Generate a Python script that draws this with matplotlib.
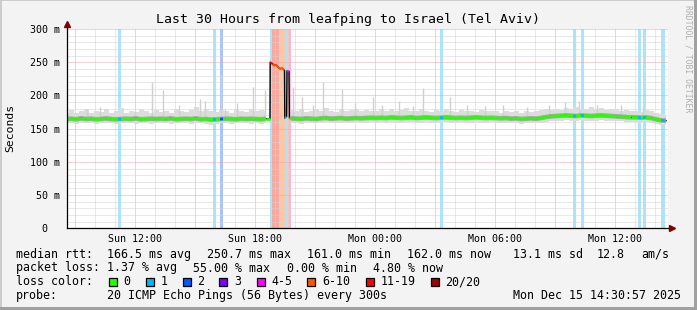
import matplotlib
matplotlib.use('Agg')
import matplotlib.pyplot as plt
import numpy as np
from matplotlib.patches import Rectangle
from matplotlib.collections import LineCollection

plt.rcParams['font.family'] = 'DejaVu Sans Mono'

W, H = 697, 310

# x = hours since Sun 00:00, regular samples every 15 min starting 08:33
t_start, t_step = 8.55, 0.25
median = [164.5, 165.0, 164.0, 165.5, 164.5, 165.0, 164.0, 164.5, 165.5, 164.5,
          164.0, 164.5, 165.0, 164.5, 165.5, 164.0, 164.5, 165.0, 164.5, 165.0,
          164.5, 165.5, 164.0, 164.5, 165.0, 164.5, 165.5, 164.0, 164.5, 163.5,
          164.0, 164.5, 165.0, 164.5, 164.0, 165.0, 164.5, 165.0, 164.5, 164.0, 165.0,
          np.nan, np.nan, np.nan, np.nan,
          165.5, 165.0, 164.5, 165.5, 165.0, 164.5, 165.5, 166.0, 165.0, 165.5,
          166.0, 165.0, 165.5, 166.0, 165.5, 166.0, 166.5,
          166.0, 166.5, 166.0, 167.0, 166.5, 166.0, 166.5, 167.0, 166.0, 166.5,
          167.0, 166.5, 166.0, 166.5, 167.0, 166.5, 166.0, 166.5, 166.0, 166.5,
          167.0, 166.5, 166.0, 166.5,
          166.0, 165.5, 166.0, 165.0, 165.5, 164.5, 165.0, 165.5, 165.0, 166.0, 167.5, 168.5,
          169.0, 169.5, 170.0, 169.5, 169.0, 170.0, 169.5, 169.0, 169.5, 170.0, 169.5, 169.0,
          168.5, 168.0, 167.5, 167.0,
          167.0, 166.5, 167.0, 166.0,
          164.0, 162.5, 162.0]
smoke_hi = [174, 178, 173, 176, 180, 174, 177, 175, 179, 173,
            176, 181, 174, 177, 175, 179, 176, 174, 178, 175,
            177, 174, 180, 176, 175, 178, 182, 176, 179, 177,
            175, 178, 176, 174, 179, 176, 175, 180, 177, 178, 176,
            np.nan, np.nan, np.nan, np.nan,
            178, 176, 180, 175, 177, 179, 176, 181, 177, 175, 179, 176, 178, 180, 176, 178, 177,
            176, 179, 177, 180, 176, 178, 181, 177, 176, 179, 177, 175,
            178, 176, 179, 177, 175, 178, 176, 177, 175, 178, 176, 177,
            176, 174, 177, 175, 176, 174, 177, 175, 176, 178, 179, 178,
            180, 178, 181, 179, 182, 178, 180, 183, 179, 181, 178, 180, 179, 177, 178, 176,
            177, 175, 178, 176,
            174, 172, 171]
smoke_lo = [158, 159, 157, 158, 159, 158, 157, 159, 158, 158,
            157, 158, 159, 158, 157, 158, 159, 157, 158, 159,
            158, 157, 159, 158, 158, 157, 159, 158, 157, 156,
            157, 158, 159, 157, 158, 159, 158, 157, 158, 157, 158,
            np.nan, np.nan, np.nan, np.nan,
            159, 158, 157, 159, 158, 158, 159, 160, 158, 159, 159, 158, 159, 160, 159, 159, 160,
            159, 160, 159, 160, 159, 159, 160, 160, 159, 159, 160, 159,
            159, 160, 160, 159, 159, 160, 159, 159, 160, 159, 159, 160,
            159, 158, 159, 158, 158, 157, 158, 158, 158, 159, 160, 161,
            162, 162, 163, 162, 162, 163, 162, 162, 162, 163, 162, 162, 161, 161, 160, 160,
            160, 159, 160, 159,
            157, 156, 155]

# outage around Sun 19:00 (median in ms, loss class index)
out_t = [18.75, 18.76, 18.90, 18.95, 19.035, 19.15, 19.25, 19.35, 19.475, 19.49, 19.58, 19.60, 19.70, 19.72]
out_v = [165, 250, 247, 245, 246, 243, 240, 241, 238, 166, 168, 237, 236, 166]
out_cls = [0, 6, 6, 5, 5, 5, 5, 5, 5, 1, 1, 4, 4, 0]

# single high pings in the smoke
spike_t = [9.6, 10.25, 12.0, 12.85, 13.4, 14.2, 15.25, 15.5, 16.3, 16.5, 17.1, 17.9,
           18.5, 19.9, 20.35, 20.9, 21.4, 22.35, 23.0, 23.9, 24.35, 25.2, 25.9, 26.4,
           27.75, 28.6, 29.5, 30.4, 31.6, 32.7, 33.5, 34.2, 35.1, 36.3, 37.4]
spike_top = [180, 183, 177, 220, 208, 186, 195, 192, 233, 180, 188, 212,
             208, 212, 197, 186, 220, 210, 188, 197, 185, 192, 184, 211,
             197, 186, 184, 185, 183, 186, 190, 192, 186, 185, 184]

# loss background stripes
loss_from = [11.15, 15.885, 16.25, 18.75, 18.85, 19.20, 19.50, 19.625, 19.70,
             27.235, 33.915, 34.30, 37.15, 37.385, 38.30]
loss_to = [11.30, 16.05, 16.40, 18.85, 19.20, 19.50, 19.625, 19.70, 19.80,
           27.40, 34.05, 34.465, 37.285, 37.535, 38.485]
loss_class = [1, 1, 2, 1, 6, 5, 1, 5, 4, 1, 1, 1, 1, 1, 1]

loss_labels = ['0', '1', '2', '3', '4-5', '6-10', '11-19', '20/20']
loss_colors = ['#26ff00', '#00b8ff', '#0059ff', '#7e00ff', '#ff00ff', '#ff5500', '#ff0000', '#a10000']
loss_bg = ['#b8ffaa', '#aae6fb', '#a8c4fb', '#d4aaff', '#f8b0f8', '#fdc6a6', '#f8aaa0', '#e0aaaa']

x_ticks = [12, 18, 24, 30, 36]
x_labels = ['Sun 12:00', 'Sun 18:00', 'Mon 00:00', 'Mon 06:00', 'Mon 12:00']
y_ticks = [0, 50, 100, 150, 200, 250, 300]
y_labels = ['0  ', ' 50 m', '100 m', '150 m', '200 m', '250 m', '300 m']


def fx(x):
    return x / W


def fy(y):
    return 1 - y / H


fig = plt.figure(figsize=(W / 100, H / 100), dpi=100, facecolor='#f3f3f3')
ax = fig.add_axes([fx(66.5), fy(228.3), (668 - 66.5) / W, (228.3 - 29) / H])
ax.set_facecolor('white')
ax.set_xlim(8.575, 38.65)
ax.set_ylim(0, 300)
for s in ax.spines.values():
    s.set_visible(False)

# loss stripes
for a, b, c in zip(loss_from, loss_to, loss_class):
    ax.axvspan(a, b, color=loss_bg[c], lw=0, zorder=1)

# grid
dots = (0, (1, 1))
for h in range(9, 39):
    ax.axvline(h, color='#eaa6a6' if h % 3 == 0 else '#d2d2d2', lw=0.72, ls=dots, zorder=1.5)
for v in range(10, 301, 10):
    ax.axhline(v, color='#eaa6a6' if v % 50 == 0 else '#d2d2d2', lw=0.72, ls=dots, zorder=1.5)

# smoke
t = t_start + t_step * np.arange(len(median))
med = np.array(median, float)
ax.fill_between(t, smoke_lo, smoke_hi, step='mid', color='#dcdcdc', lw=0, zorder=2)
ax.vlines(spike_t, 168, spike_top, color='#d0d0d0', lw=1.0, zorder=2)
ax.plot(t, med, color='#a8a8a8', lw=3.4, zorder=2.2, solid_capstyle='butt')

# median line: black under, loss-coloured on top
ok = ~np.isnan(med)
all_t = np.concatenate([t[ok], out_t])
all_v = np.concatenate([med[ok], out_v])
all_c = np.concatenate([np.zeros(ok.sum(), int), out_cls])
order = np.argsort(all_t, kind='stable')
all_t, all_v, all_c = all_t[order], all_v[order], all_c[order]
ax.plot(all_t, all_v, color='black', lw=1.0, zorder=3)

segs, cols, widths = [], [], []
for i in range(len(all_t) - 1):
    if abs(all_v[i + 1] - all_v[i]) < 20:
        segs.append([(all_t[i], all_v[i]), (all_t[i + 1], all_v[i + 1])])
        cols.append(loss_colors[all_c[i + 1]])
        widths.append(2.0 if all_c[i + 1] == 0 else 1.4)
ax.add_collection(LineCollection(segs, colors=cols, linewidths=widths, zorder=4, capstyle='butt'))

for a, b, c in zip(loss_from, loss_to, loss_class):
    if 18.7 < a < 19.9:
        continue
    ln, = ax.plot(all_t, all_v, color=loss_colors[c], lw=2.0, zorder=4.5)
    ln.set_clip_path(Rectangle((a, 0), b - a, 300, transform=ax.transData))

# axes with arrows
ax.plot([0, 0], [0, 1.025], transform=ax.transAxes, color='black', lw=0.9, clip_on=False, zorder=6)
ax.plot([0, 1.006], [0, 0], transform=ax.transAxes, color='black', lw=0.9, clip_on=False, zorder=6)
ax.plot(0, 1.025, marker='^', ms=4.5, color='#7f0000', transform=ax.transAxes, clip_on=False, zorder=7)
ax.plot(1.006, 0, marker='>', ms=4.5, color='#7f0000', transform=ax.transAxes, clip_on=False, zorder=7)

ax.set_xticks(x_ticks, x_labels)
ax.set_yticks(y_ticks, y_labels)
ax.tick_params(length=0, labelsize=7.2, colors='black')
ax.tick_params(axis='x', pad=4)
ax.tick_params(axis='y', pad=4.5)

fig.text(fx(348), fy(19), 'Last 30 Hours from leafping to Israel (Tel Aviv)', fontsize=9.5,
         ha='center', va='center')
fig.text(fx(10), fy(128), 'Seconds', fontsize=8.2, rotation=90, ha='center', va='center')
fig.text(fx(688), fy(59), 'RRDTOOL / TOBI OETIKER', fontsize=5.9, rotation=270,
         ha='center', va='center', color='#b0b0b0')

# legend
fs = 8.4
row1 = [(16, 'median rtt:'), (107.3, '166.5 ms avg'), (207.3, '250.7 ms max'), (307.3, '161.0 ms min'),
        (407.3, '162.0 ms now'), (512.7, '13.1 ms sd'), (597, '12.8'), (641.7, 'am/s')]
row2 = [(16, 'packet loss:'), (107.3, '1.37 % avg'), (193.3, '55.00 % max'), (286.7, '0.00 % min'),
        (373.3, '4.80 % now')]
row4 = [(16, 'probe:'), (107.3, '20 ICMP Echo Pings (56 Bytes) every 300s'),
        (512.7, 'Mon Dec 15 14:30:57 2025')]
for y, row in [(254.3, row1), (268, row2), (295.3, row4)]:
    for x, s in row:
        fig.text(fx(x), fy(y), s, fontsize=fs, ha='left', va='center')
fig.text(fx(16), fy(281.7), 'loss color:', fontsize=fs, ha='left', va='center')
box_x = [108.7, 145.7, 182.7, 219.3, 256.7, 307.3, 365.7, 430.7]
for bx, lab, c in zip(box_x, loss_labels, loss_colors):
    fig.add_artist(Rectangle((fx(bx), fy(286)), 8 / W, 8 / H, transform=fig.transFigure,
                             facecolor=c, edgecolor='black', lw=0.9))
    fig.text(fx(bx + 14.5), fy(281.7), lab, fontsize=fs, ha='left', va='center')

# bevelled frame
fig.add_artist(Rectangle((0, 0), 2 / W, 1, transform=fig.transFigure, color='#cccccc', lw=0))
fig.add_artist(Rectangle((0, 1 - 1 / H), 1, 1 / H, transform=fig.transFigure, color='#cccccc', lw=0))
fig.add_artist(Rectangle((1 - 3 / W, 0), 3 / W, 1, transform=fig.transFigure, color='#a0a0a0', lw=0))
fig.add_artist(Rectangle((0, 0), 1, 3 / H, transform=fig.transFigure, color='#a0a0a0', lw=0))

fig.savefig('out.png', dpi=100, facecolor=fig.get_facecolor())
